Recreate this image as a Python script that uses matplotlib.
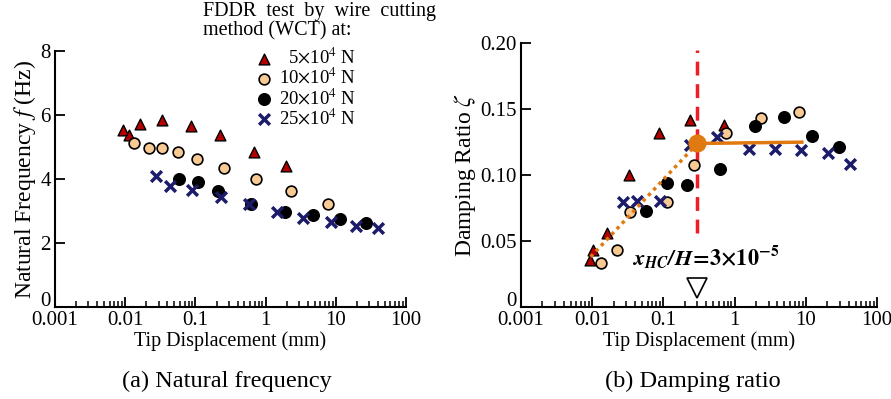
import numpy as np
import matplotlib
matplotlib.use('Agg')
import matplotlib.pyplot as plt
import matplotlib.transforms as mtransforms
from matplotlib.ticker import LogLocator, NullFormatter

plt.rcParams['font.family'] = ['Liberation Serif', 'DejaVu Serif']
plt.rcParams['mathtext.fontset'] = 'stix'

# (a) natural frequency, Hz
fa_x_5 = [0.0092, 0.0112, 0.0164, 0.0338, 0.0857, 0.224, 0.684, 1.95]
fa_y_5 = [5.53, 5.38, 5.71, 5.84, 5.67, 5.38, 4.83, 4.42]
fa_x_10 = [0.0133, 0.0218, 0.0338, 0.056, 0.106, 0.255, 0.723, 2.28, 7.83]
fa_y_10 = [5.11, 4.98, 4.98, 4.85, 4.63, 4.35, 4.0, 3.63, 3.21]
fa_x_20 = [0.0584, 0.110, 0.212, 0.62, 1.9, 4.79, 11.5, 26.7]
fa_y_20 = [3.99, 3.90, 3.62, 3.22, 2.98, 2.88, 2.74, 2.61]
fa_x_25 = [0.0272, 0.0435, 0.0886, 0.232, 0.58, 1.44, 3.44, 8.45, 19.4, 39.5]
fa_y_25 = [4.10, 3.78, 3.66, 3.45, 3.22, 2.98, 2.79, 2.67, 2.54, 2.46]

# (b) damping ratio
db_x_5 = [0.0092, 0.0102, 0.016, 0.033, 0.0859, 0.236, 0.703]
db_y_5 = [0.0356, 0.0432, 0.056, 0.100, 0.132, 0.142, 0.138]
db_x_10 = [0.0135, 0.022, 0.034, 0.113, 0.269, 0.757, 2.32, 8.04]
db_y_10 = [0.0336, 0.043, 0.0717, 0.0798, 0.108, 0.132, 0.143, 0.148]
db_x_20 = [0.0574, 0.113, 0.217, 0.63, 1.91, 4.93, 12.2, 29.1]
db_y_20 = [0.0727, 0.0937, 0.0924, 0.105, 0.137, 0.144, 0.130, 0.121]
db_x_25 = [0.0268, 0.0432, 0.0906, 0.236, 0.565, 1.57, 3.67, 8.5, 20.3, 41.7]
db_y_25 = [0.0798, 0.0805, 0.0805, 0.1227, 0.129, 0.1197, 0.1195, 0.119, 0.1164, 0.1088]

# threshold point and fitted lines
x_hc = 0.3
zeta_hc = 0.124
fit_rise_x = [0.0095, x_hc]
fit_rise_y = [0.038, zeta_hc]
fit_flat_x = [x_hc, 8.8]
fit_flat_y = [zeta_hc, 0.125]

labels = ['\u20075$\\times$10$^4$ N', '10$\\times$10$^4$ N',
          '20$\\times$10$^4$ N', '25$\\times$10$^4$ N']

fig = plt.figure(figsize=(8.91, 3.99), dpi=100)
ax1 = fig.add_axes([0.0617, 0.2306, 0.394, 0.6416])
ax2 = fig.add_axes([0.5847, 0.2306, 0.3996, 0.661])


def draw_points(ax, xs, ys):
    h = []
    h.append(ax.scatter(xs[0], ys[0], marker='^', s=60, c='#b30000',
                        edgecolors='black', linewidths=1.0, zorder=3))
    h.append(ax.scatter(xs[1], ys[1], marker='o', s=60, c='#f7c993',
                        edgecolors='black', linewidths=1.2, zorder=3))
    h.append(ax.scatter(xs[2], ys[2], marker='o', s=70, c='black',
                        edgecolors='black', linewidths=1.0, zorder=3))
    h.append(ax.scatter(xs[3], ys[3], marker='x', s=60, c='#1c1c6b',
                        linewidths=2.5, zorder=3))
    return h


handles = draw_points(ax1, [fa_x_5, fa_x_10, fa_x_20, fa_x_25],
                      [fa_y_5, fa_y_10, fa_y_20, fa_y_25])
draw_points(ax2, [db_x_5, db_x_10, db_x_20, db_x_25],
            [db_y_5, db_y_10, db_y_20, db_y_25])

# fitted lines (b)
ax2.plot(fit_rise_x, fit_rise_y, color='#e07a10', lw=2.5, ls=(0, (1, 1.2)), zorder=4)
ax2.plot(fit_flat_x, fit_flat_y, color='#e07a10', lw=2.5, zorder=4)
ax2.plot([x_hc], [zeta_hc], 'o', color='#e07a10', ms=12, zorder=5)
ax2.plot([x_hc, x_hc], [0.056, 0.195], color='#ee1c25', lw=2.5,
         ls=(0, (4, 2.5)), zorder=2)
ax2.plot([x_hc], [0.0145], marker='v', ms=15, mfc='white', mec='black',
         mew=1.2, clip_on=False, zorder=5)
ax2.text(0.036, 0.038,
         '$\\mathbfit{x}_{\\mathbfit{HC}}\\mathbfit{/H}\\!\\mathbf{=}\\!\\mathbf{3{\\times}10^{-5}}$',
         fontsize=16, ha='left', va='center')

for ax in (ax1, ax2):
    ax.set_xscale('log')
    ax.set_xlim(0.001, 100)
    for s in ('top', 'right'):
        ax.spines[s].set_visible(False)
    ax.spines['left'].set_linewidth(1.5)
    ax.spines['bottom'].set_linewidth(1.5)
    ax.xaxis.set_minor_locator(LogLocator(base=10, subs=np.arange(2, 10), numticks=100))
    ax.xaxis.set_minor_formatter(NullFormatter())
    ax.set_xticks([0.001, 0.01, 0.1, 1, 10, 100])
    ax.set_xticklabels(['0.001', '0.01', '0.1', '1', '10', '100'])
    ax.tick_params(axis='both', which='major', direction='in', length=7, width=1.3,
                   labelsize=15, pad=3)
    ax.tick_params(axis='x', which='minor', direction='in', length=4, width=1.1)
    ax.set_xlabel('Tip Displacement (mm)', fontsize=14.5, labelpad=1)

ax1.set_ylim(0, 8)
ax1.set_yticks([0, 2, 4, 6, 8])
ax1.set_ylabel('Natural Frequency $f$ (Hz)', fontsize=17, labelpad=2)

ax2.set_ylim(0, 0.2)
ax2.set_yticks([0, 0.05, 0.10, 0.15, 0.20])
ax2.set_yticklabels(['0', '0.05', '0.10', '0.15', '0.20'])
ax2.set_ylabel('Damping Ratio $\\zeta$', fontsize=17, labelpad=2)

# lift the "0" labels a little so they sit clear of the 0.001 label
shift = mtransforms.ScaledTranslation(0, 6 / 72, fig.dpi_scale_trans)
for ax in (ax1, ax2):
    lab = ax.get_yticklabels()[0]
    lab.set_transform(lab.get_transform() + shift)

fig.text(0.255, 0.045, '(a) Natural frequency', fontsize=17.5, ha='center', va='center')
fig.text(0.778, 0.045, '(b) Damping ratio', fontsize=17.5, ha='center', va='center')

fig.text(0.228, 0.972, 'FDDR  test  by  wire  cutting', fontsize=14.5, ha='left', va='center')
fig.text(0.228, 0.922, 'method (WCT) at:', fontsize=14.5, ha='left', va='center')

leg = ax1.legend(handles, labels, loc='upper left', bbox_to_anchor=(0.275, 0.905),
                 bbox_transform=fig.transFigure, frameon=False, fontsize=13.5,
                 handletextpad=0.3, labelspacing=0.0, borderpad=0, handlelength=1.0)

fig.savefig('out.png', dpi=100)
